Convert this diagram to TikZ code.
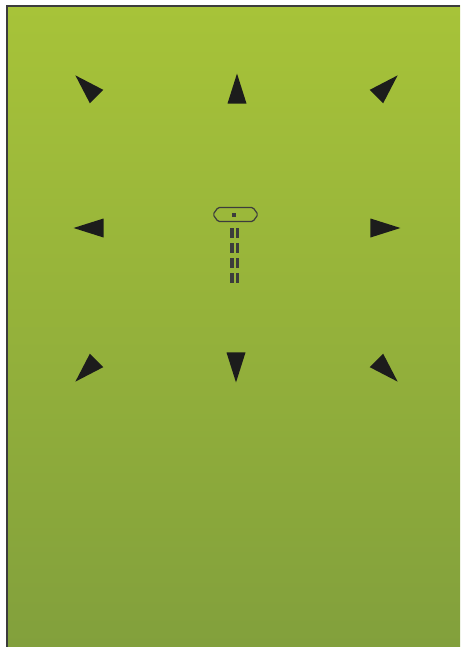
\documentclass[tikz,border=0pt]{standalone}
\usepackage{tikz}
\usetikzlibrary{shapes.geometric}
\definecolor{padtop}{RGB}{167,195,57}
\definecolor{padbottom}{RGB}{130,160,60}
\definecolor{inkdark}{RGB}{28,28,28}
\definecolor{inkgray}{RGB}{60,60,60}

\begin{document}
\begin{tikzpicture}[
    x=1pt, y=-1pt,
    pointer/.style={isosceles triangle, isosceles triangle stretches, fill=inkdark,
      inner sep=0pt, minimum width=19pt, minimum height=30pt, rotate=#1, anchor=apex}
  ]
    \useasboundingbox (0,0) rectangle (460,647);
    % background pad
    \shade[top color=padtop, bottom color=padbottom] (7,6) rectangle (460,647);
    \draw[inkgray, line width=1.6pt] (7,647) -- (7,6) -- (460,6);

    % eight direction pointers, placed by their tips
    \node[pointer=135] (upleft) at (75,75) {};
    \node[pointer=90] (up) at (237,73) {};
    \node[pointer=45] (upright) at (398,75) {};
    \node[pointer=180] (left) at (73,228) {};
    \node[pointer=0] (right) at (401,228) {};
    \node[pointer=225] (downleft) at (75,382) {};
    \node[pointer=270] (down) at (236,383) {};
    \node[pointer=315] (downright) at (398,382) {};

    % centre stick
    \draw[inkgray, line width=1.2pt, rounded corners=1.5pt]
      (213,214.5) -- (218,207.5) -- (253,207.5) -- (258,214.5) -- (253,221.5) -- (218,221.5) -- cycle;
    \fill[inkgray] (232,212.5) rectangle (236,216.5);
    \foreach \dx in {232,237.5}
      \draw[inkgray, line width=3.2pt, dash pattern=on 10pt off 5pt] (\dx,228) -- (\dx,283);
  \end{tikzpicture}
\end{document}
